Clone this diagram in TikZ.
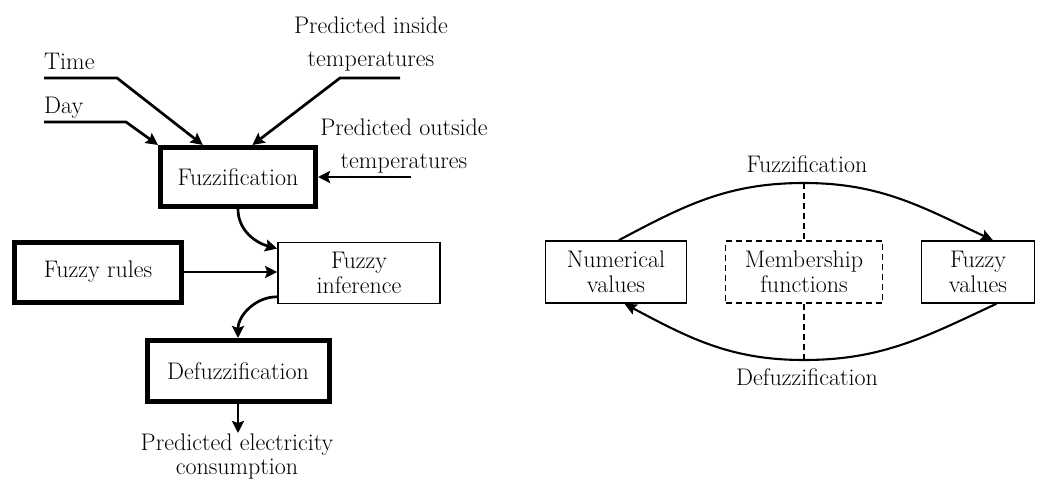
\documentclass[tikz,border=0pt]{standalone}
\usetikzlibrary{arrows.meta,calc}
\begin{document}
\begin{tikzpicture}[x=1pt,y=-1pt,
 txt/.style={font=\fontsize{24}{25}\selectfont, align=center, inner sep=0pt},
 lbl/.style={font=\fontsize{24}{33}\selectfont, align=center, inner sep=0pt},
 thickbox/.style={draw, line width=5pt, txt},
 thinbox/.style={draw, line width=1.6pt, txt},
 dashbox/.style={draw, line width=1.6pt, dash pattern=on 6pt off 4pt, txt},
 arr/.style={line width=2.7pt, -{Stealth[length=12pt,width=12pt,inset=2pt]}},
 arr2/.style={line width=2.1pt, -{Stealth[length=12pt,width=11pt,inset=2pt]}},
 dline/.style={line width=1.6pt, dash pattern=on 6pt off 4pt}]
\useasboundingbox (0,0) rectangle (1053,479);
% left diagram
\node[thickbox, minimum width=155pt, minimum height=59pt] (fz) at (238,177) {Fuzzification};
\node[thickbox, minimum width=167pt, minimum height=60pt] (fr) at (98,272) {Fuzzy rules};
\node[thinbox, minimum width=162pt, minimum height=61pt] (fi) at (359,273) {Fuzzy\\inference};
\node[thickbox, minimum width=182pt, minimum height=61pt] (dz) at (238,371) {Defuzzification};
\node[lbl, anchor=base west] (time) at (44,69) {Time};
\node[lbl, anchor=base west] (day) at (44,113) {Day};
\node[lbl, anchor=north] (pin) at (371,16.3) {Predicted inside\\temperatures};
\node[lbl, anchor=north] (pout) at (404,118.3) {Predicted outside\\temperatures};
\node[font=\fontsize{24}{24}\selectfont, align=center, inner sep=0pt, anchor=north] (pel) at (237,433.3) {Predicted electricity\\consumption};
\coordinate (t0) at (44,78); \coordinate (t1) at (117,78);
\coordinate (d0) at (44,122); \coordinate (d1) at (126,122);
\coordinate (i0) at (400,78); \coordinate (i1) at (340,78);
\coordinate (o0) at (411,177);
\coordinate (pe) at (238,433);
\draw[arr] (t0) -- (t1) -- ($(fz.north west)!0.28!(fz.north east)$);
\draw[arr] (d0) -- (d1) -- (fz.north west);
\draw[arr] (i0) -- (i1) -- ($(fz.north west)!0.59!(fz.north east)$);
\draw[arr] (o0) -- (fz.east);
\draw[arr] (fz.south) to[out=-90,in=165] ($(fi.north west)!0.11!(fi.south west)$);
\draw[arr] (fr.east) -- (fr.east -| fi.west);
\draw[arr] ($(fi.north west)!0.88!(fi.south west)$) to[out=180,in=90] (dz.north);
\draw[arr] (dz.south) -- (pe);
% right diagram
\node[thinbox, minimum width=141pt, minimum height=62pt] (nv) at (616,272) {Numerical\\values};
\node[dashbox, minimum width=157pt, minimum height=62pt] (mf) at (804,272) {Membership\\functions};
\node[thinbox, minimum width=113pt, minimum height=62pt] (fv) at (978,272) {Fuzzy\\values};
\node[txt, anchor=base] (flab) at (807,172) {Fuzzification};
\node[txt, anchor=base] (dlab) at (807,385) {Defuzzification};
\coordinate (ftop) at (804,183);
\coordinate (fbot) at (804,360);
\draw[arr2] ($(nv.north west)!0.52!(nv.north east)$) to[out=28,in=180] (ftop) to[out=0,in=155] ($(fv.north west)!0.63!(fv.north east)$);
\draw[arr2] ($(fv.south west)!0.66!(fv.south east)$) to[out=-155,in=0] (fbot) to[out=180,in=-28] ($(nv.south west)!0.56!(nv.south east)$);
\draw[dline] (ftop) -- (mf.north);
\draw[dline] (mf.south) -- (fbot);
\end{tikzpicture}
\end{document}
